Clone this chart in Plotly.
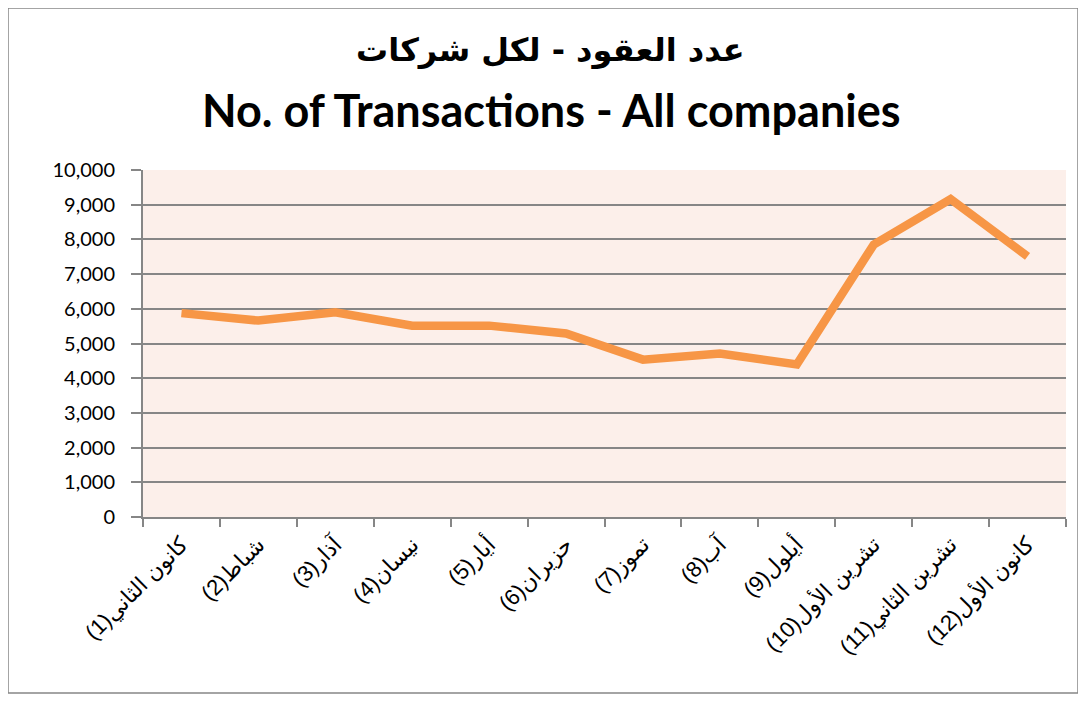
import plotly.graph_objects as go

months = ["كانون الثاني(1)", "شباط(2)", "آذار(3)", "نيسان(4)", "أيار(5)", "حزيران(6)",
          "تموز(7)", "آب(8)", "أيلول(9)", "تشرين الأول(10)", "تشرين الثاني(11)", "كانون الأول(12)"]
transactions = [5875, 5660, 5900, 5515, 5515, 5290, 4535, 4710, 4395, 7850, 9160, 7510]
y_ticks = [0, 1000, 2000, 3000, 4000, 5000, 6000, 7000, 8000, 9000, 10000]
title_ar = "عدد العقود - لكل شركات"
title_en = "No. of Transactions - All companies"

# page body has an 8px margin; figure origin sits at screen (8, 8)
OFF = 8
W, H = 1078, 693
L, T = 143 - OFF, 170 - OFF
R = W - (1066 - OFF)
B = H - (517 - OFF)
pw, ph = W - L - R, H - T - B

def px(x):
    return (x - OFF - L) / pw

def py(y):
    return (H - B - (y - OFF)) / ph

fig = go.Figure()
fig.add_trace(go.Scatter(
    x=months, y=transactions, mode="lines",
    line=dict(color="#F79646", width=8.5, shape="linear"),
    hoverinfo="x+y",
))

fig.update_layout(
    width=W, height=H,
    margin=dict(l=L, r=R, t=T, b=B),
    paper_bgcolor="white",
    plot_bgcolor="#FCEFEA",
    showlegend=False,
    font=dict(family="Lato, 'DejaVu Sans', sans-serif", color="#000000", size=18),
    xaxis=dict(
        type="category",
        tickson="boundaries",
        ticks="outside", ticklen=8, tickcolor="#868686", tickwidth=1.5,
        showline=True, linecolor="#868686", linewidth=2,
        showgrid=False,
        tickangle=-45,
        ticklabelstandoff=4,
        tickfont=dict(family="'Liberation Sans', 'DejaVu Sans', sans-serif", size=22, color="#000000"),
        range=[-0.5, 11.5],
    ),
    yaxis=dict(
        range=[0, 10000],
        tickvals=y_ticks,
        tickformat=",d",
        ticks="outside", ticklen=10, tickcolor="#868686", tickwidth=1.5,
        showline=True, linecolor="#868686", linewidth=2,
        showgrid=True, gridcolor="#868686", gridwidth=2,
        zeroline=False,
        ticklabelstandoff=12,
        tickfont=dict(family="Lato, sans-serif", size=20, color="#000000"),
    ),
    annotations=[
        dict(text="<b>" + title_ar + "</b>", x=px(550), y=py(50), xref="paper", yref="paper",
             showarrow=False, xanchor="center", yanchor="middle",
             font=dict(family="'DejaVu Sans', sans-serif", size=32, color="#000000")),
        dict(text="<b>" + title_en + "</b>", x=px(551), y=py(110), xref="paper", yref="paper",
             showarrow=False, xanchor="center", yanchor="middle",
             font=dict(family="Lato, sans-serif", size=45, color="#000000")),
    ],
    shapes=[
        dict(type="rect", xref="paper", yref="paper",
             x0=px(8), x1=px(1078), y0=py(693), y1=py(8),
             line=dict(color="#868686", width=1.5), fillcolor="rgba(0,0,0,0)", layer="below"),
    ],
)

fig.write_html("out.html")
